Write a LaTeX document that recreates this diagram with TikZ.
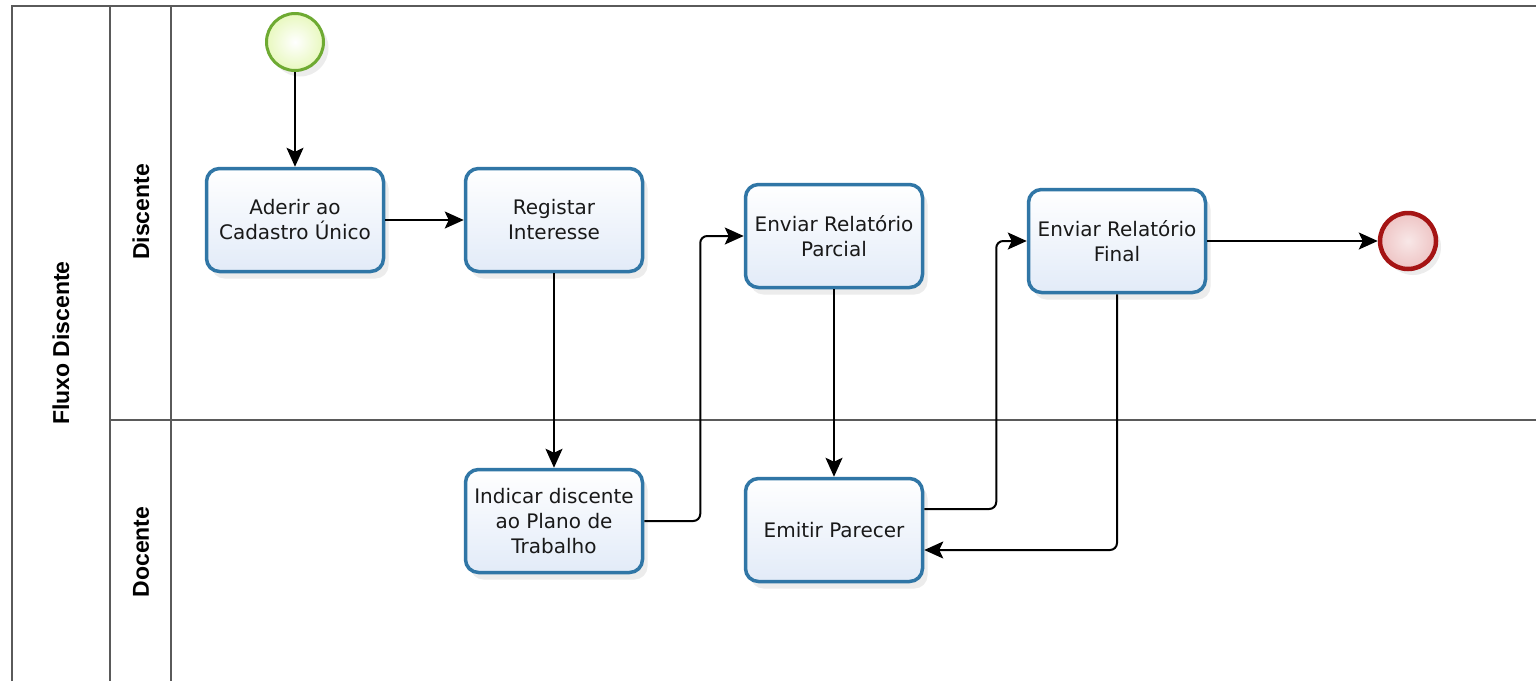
\documentclass[tikz,border=0pt]{standalone}
\usepackage{fontspec}
\setmainfont{DejaVu Sans}
\newfontfamily\lanefont{Liberation Sans}
\usetikzlibrary{arrows.meta,shadows,shapes.geometric}

\definecolor{taskborder}{RGB}{48,118,166}
\definecolor{taskfill}{RGB}{226,235,248}
\definecolor{poolline}{RGB}{90,90,90}
\definecolor{startborder}{RGB}{110,170,50}
\definecolor{startfill}{RGB}{232,248,190}
\definecolor{endborder}{RGB}{165,20,20}
\definecolor{endfill}{RGB}{238,196,196}

\begin{document}
\begin{tikzpicture}[x=1pt,y=-1pt,
  task/.style={draw=taskborder, line width=3.5pt, rounded corners=13pt,
    minimum width=177pt, minimum height=103pt, inner sep=2pt,
    top color=white, bottom color=taskfill, align=center,
    font=\fontsize{20}{25}\selectfont, text=black!90,
    drop shadow={opacity=0.15, shadow xshift=5pt, shadow yshift=-7pt}},
  startev/.style={circle, draw=startborder, line width=3pt, minimum size=57pt, inner sep=0pt,
    inner color=white, outer color=startfill,
    drop shadow={opacity=0.15, shadow xshift=5pt, shadow yshift=-6pt}},
  endev/.style={circle, draw=endborder, line width=4.5pt, minimum size=56pt, inner sep=0pt,
    inner color=white!60!endfill, outer color=endfill,
    drop shadow={opacity=0.15, shadow xshift=5pt, shadow yshift=-6pt}},
  flow/.style={draw=black, line width=2pt, rounded corners=7pt,
    -{Stealth[length=19pt,width=17pt,inset=4pt]}},
  poolln/.style={draw=poolline, line width=2pt},
  lanelabel/.style={rotate=90, font=\lanefont\bfseries\fontsize{23}{26}\selectfont, text=black}
]
\useasboundingbox (0,0) rectangle (1536,681);
\fill[white] (0,0) rectangle (1536,681);

% pool and lanes
\draw[poolln] (12,681) -- (12,6) -- (1536,6);
\draw[poolln] (110,6) -- (110,681);
\draw[poolln] (171,6) -- (171,681);
\draw[poolln] (110,420) -- (1536,420);

\node[lanelabel] (pool) at (61,343) {Fluxo Discente};
\node[lanelabel] (ldis) at (141,212) {Discente};
\node[lanelabel] (ldoc) at (141,552) {Docente};

% events
\node[startev] (start) at (295,42) {};
\node[endev] (fim) at (1408,241) {};

% tasks
\node[task] (ader) at (295,220) {Aderir ao\\Cadastro Único};
\node[task] (reg) at (554,220) {Registar\\Interesse};
\node[task] (par) at (834,236) {Enviar Relatório\\Parcial};
\node[task] (fin) at (1117,241) {Enviar Relatório\\Final};
\node[task] (ind) at (554,521) {Indicar discente\\ao Plano de\\Trabalho};
\node[task] (emi) at (834,530) {Emitir Parecer};

% flows
\draw[flow] (start) -- (ader);
\draw[flow] (ader) -- (reg);
\draw[flow] (reg) -- (ind);
\draw[flow] (ind.east) -- ++(56,0) |- (par.west);
\draw[flow] (par) -- (emi);
\draw[flow] ([yshift=21pt]emi.east) -- ++(72,0) |- (fin.west);
\draw[flow] (fin.south) |- ([yshift=-20pt]emi.east);
\draw[flow] (fin) -- (fim);
\end{tikzpicture}
\end{document}
